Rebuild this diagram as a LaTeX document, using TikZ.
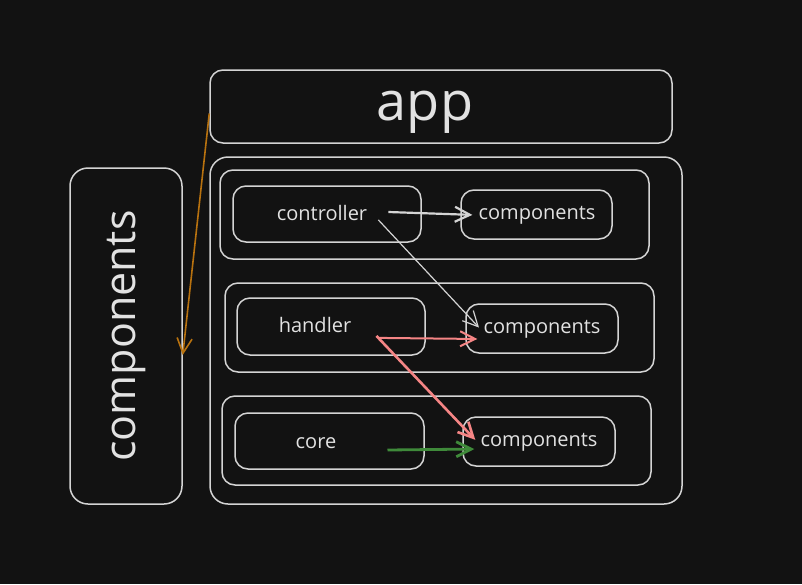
\documentclass[tikz,border=0pt]{standalone}
\usepackage{fontspec}
\setmainfont{Open Sans}
\usepackage{xcolor}
\usetikzlibrary{arrows.meta}

\definecolor{bgdark}{HTML}{121212}
\definecolor{linegray}{HTML}{D4D4D4}
\definecolor{txtgray}{HTML}{E2E2E2}
\definecolor{arrorange}{HTML}{B8720F}
\definecolor{arrred}{HTML}{F58585}
\definecolor{arrgreen}{HTML}{3F8A3A}

\begin{document}
\begin{tikzpicture}[x=1pt, y=-1pt, >={Straight Barb[length=15pt,width=15pt]},
    box/.style={draw=linegray, line width=1.5pt, rounded corners=13pt, inner sep=0pt},
    lbl/.style={text=txtgray, font=\fontsize{20}{24}\selectfont, inner sep=3pt}]
  \fill[bgdark] (0,0) rectangle (802,584);
  \useasboundingbox (0,0) rectangle (802,584);

  % outer boxes
  \node[box, minimum width=462pt, minimum height=73pt] (app) at (441,106.5) {};
  \node[text=txtgray, font=\fontsize{54}{60}\selectfont] (apptxt) at (425,112) {app};
  \node[box, rounded corners=18pt, minimum width=112pt, minimum height=336pt, text=txtgray,
        font=\fontsize{43}{48}\selectfont] (side) at (126,336) {\rotatebox{90}{components}};
  \node[box, rounded corners=18pt, minimum width=472pt, minimum height=347pt] (main) at (446,330.5) {};

  % layer groups
  \node[box, minimum width=429pt, minimum height=89pt] (grp1) at (434.5,214.5) {};
  \node[box, minimum width=429pt, minimum height=89pt] (grp2) at (439.5,327.5) {};
  \node[box, minimum width=429pt, minimum height=89pt] (grp3) at (436.5,440.5) {};

  \node[box, minimum width=188pt, minimum height=56pt] (ctrlbox) at (327,214) {};
  \node[box, minimum width=151pt, minimum height=49pt] (comp1box) at (536.5,214.5) {};
  \node[box, minimum width=188pt, minimum height=57pt] (hdlbox) at (331,326.5) {};
  \node[box, minimum width=152pt, minimum height=49pt] (comp2box) at (542,328.5) {};
  \node[box, minimum width=189pt, minimum height=56pt] (corebox) at (329.5,441) {};
  \node[box, minimum width=152pt, minimum height=49pt] (comp3box) at (539,441.5) {};

  \node[lbl] (ctrl) at (322,213) {controller};
  \node[lbl] (comp1) at (537,215) {components};
  \node[lbl] (hdl) at (315,325) {handler};
  \node[lbl] (comp2) at (542,329) {components};
  \node[lbl] (core) at (316,443) {core};
  \node[lbl] (comp3) at (539,442) {components};

  % dependencies
  \draw[->, arrorange, line width=1.6pt] ([yshift=-7pt]app.west) -- ([yshift=-19pt]side.east);
  \draw[->, linegray, line width=2.2pt, shorten >=3pt] ([xshift=18pt,yshift=1pt]ctrl.east) -- (comp1.west);
  \draw[->, linegray, line width=1.2pt, shorten >=2pt] ([xshift=8pt,yshift=4pt]ctrl.south east) -- (comp2.west);
  \draw[->, arrred, line width=2pt, shorten >=3pt] ([xshift=24pt,yshift=-2pt]hdl.south east) -- ([yshift=-10pt]comp2.west);
  \draw[->, arrred, line width=2.6pt, shorten >=3pt] ([xshift=22pt]hdl.south east) -- (comp3.west);
  \draw[->, arrgreen, line width=2.8pt, shorten >=3pt] ([xshift=48pt,yshift=-7pt]core.east) -- ([yshift=-7pt]comp3.west);
\end{tikzpicture}
\end{document}
